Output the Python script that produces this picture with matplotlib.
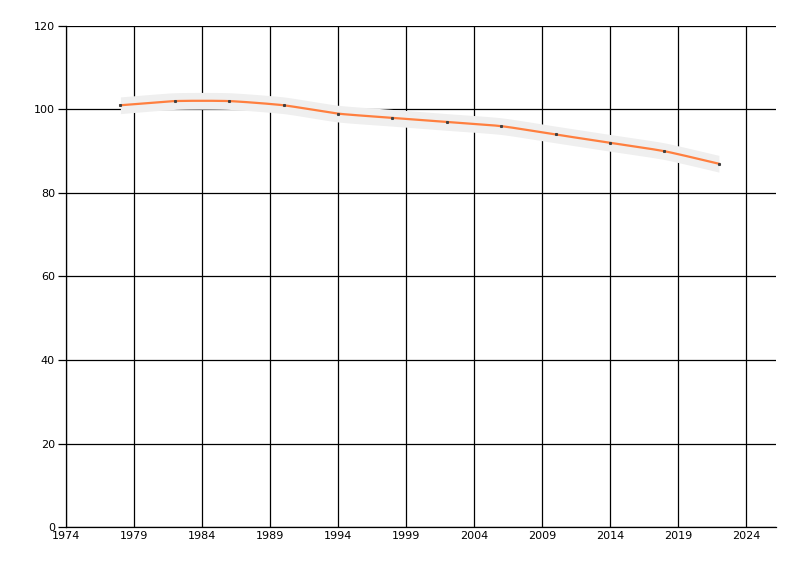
import matplotlib
matplotlib.use("Agg")
import matplotlib.pyplot as plt
import numpy as np

years = [1978, 1982, 1986, 1990, 1994, 1998, 2002, 2006, 2010, 2014, 2018, 2022]
values = [101, 102, 102, 101, 99, 98, 97, 96, 94, 92, 90, 87]
band_half = 2.0

x_ticks = [1974, 1979, 1984, 1989, 1994, 1999, 2004, 2009, 2014, 2019, 2024]
y_ticks = [0, 20, 40, 60, 80, 100, 120]


def smooth(xs, ys, n=20, tension=0.3):
    # cardinal spline through the points, just for drawing
    xs = np.asarray(xs, float)
    ys = np.asarray(ys, float)
    px = np.concatenate([[xs[0]], xs, [xs[-1]]])
    py = np.concatenate([[ys[0]], ys, [ys[-1]]])
    ox, oy = [], []
    t = np.linspace(0, 1, n, endpoint=False)
    for i in range(1, len(px) - 2):
        mx0 = tension * (px[i + 1] - px[i - 1])
        my0 = tension * (py[i + 1] - py[i - 1])
        mx1 = tension * (px[i + 2] - px[i])
        my1 = tension * (py[i + 2] - py[i])
        h00 = 2 * t**3 - 3 * t**2 + 1
        h10 = t**3 - 2 * t**2 + t
        h01 = -2 * t**3 + 3 * t**2
        h11 = t**3 - t**2
        ox.append(h00 * px[i] + h10 * mx0 + h01 * px[i + 1] + h11 * mx1)
        oy.append(h00 * py[i] + h10 * my0 + h01 * py[i + 1] + h11 * my1)
    ox.append([xs[-1]])
    oy.append([ys[-1]])
    return np.concatenate(ox), np.concatenate(oy)


fig = plt.figure(figsize=(8, 5.76), dpi=100)
ax = fig.add_axes([0.0825, 0.085, 0.8875, 0.87])

sx, sy = smooth(years, values)
ax.fill_between(sx, sy - band_half, sy + band_half, color="#efefef", lw=0, zorder=3)
ax.plot(sx, sy, color="#ff7f3f", lw=1.6, zorder=4)
ax.plot(years, values, ls="none", marker="s", ms=1.2, color="#404040", zorder=5)

ax.set_xlim(1974, 2026.2)
ax.set_ylim(0, 120)
ax.set_xticks(x_ticks)
ax.set_yticks(y_ticks)
ax.grid(True, color="black", lw=0.9, zorder=1)
ax.set_axisbelow(True)
for side in ["top", "right"]:
    ax.spines[side].set_visible(False)
for side in ["left", "bottom"]:
    ax.spines[side].set_linewidth(0.9)
ax.tick_params(axis="y", length=6, width=0.9, labelsize=8, pad=2)
ax.tick_params(axis="x", length=0, labelsize=8, pad=3)

fig.savefig("out.png", dpi=100)
